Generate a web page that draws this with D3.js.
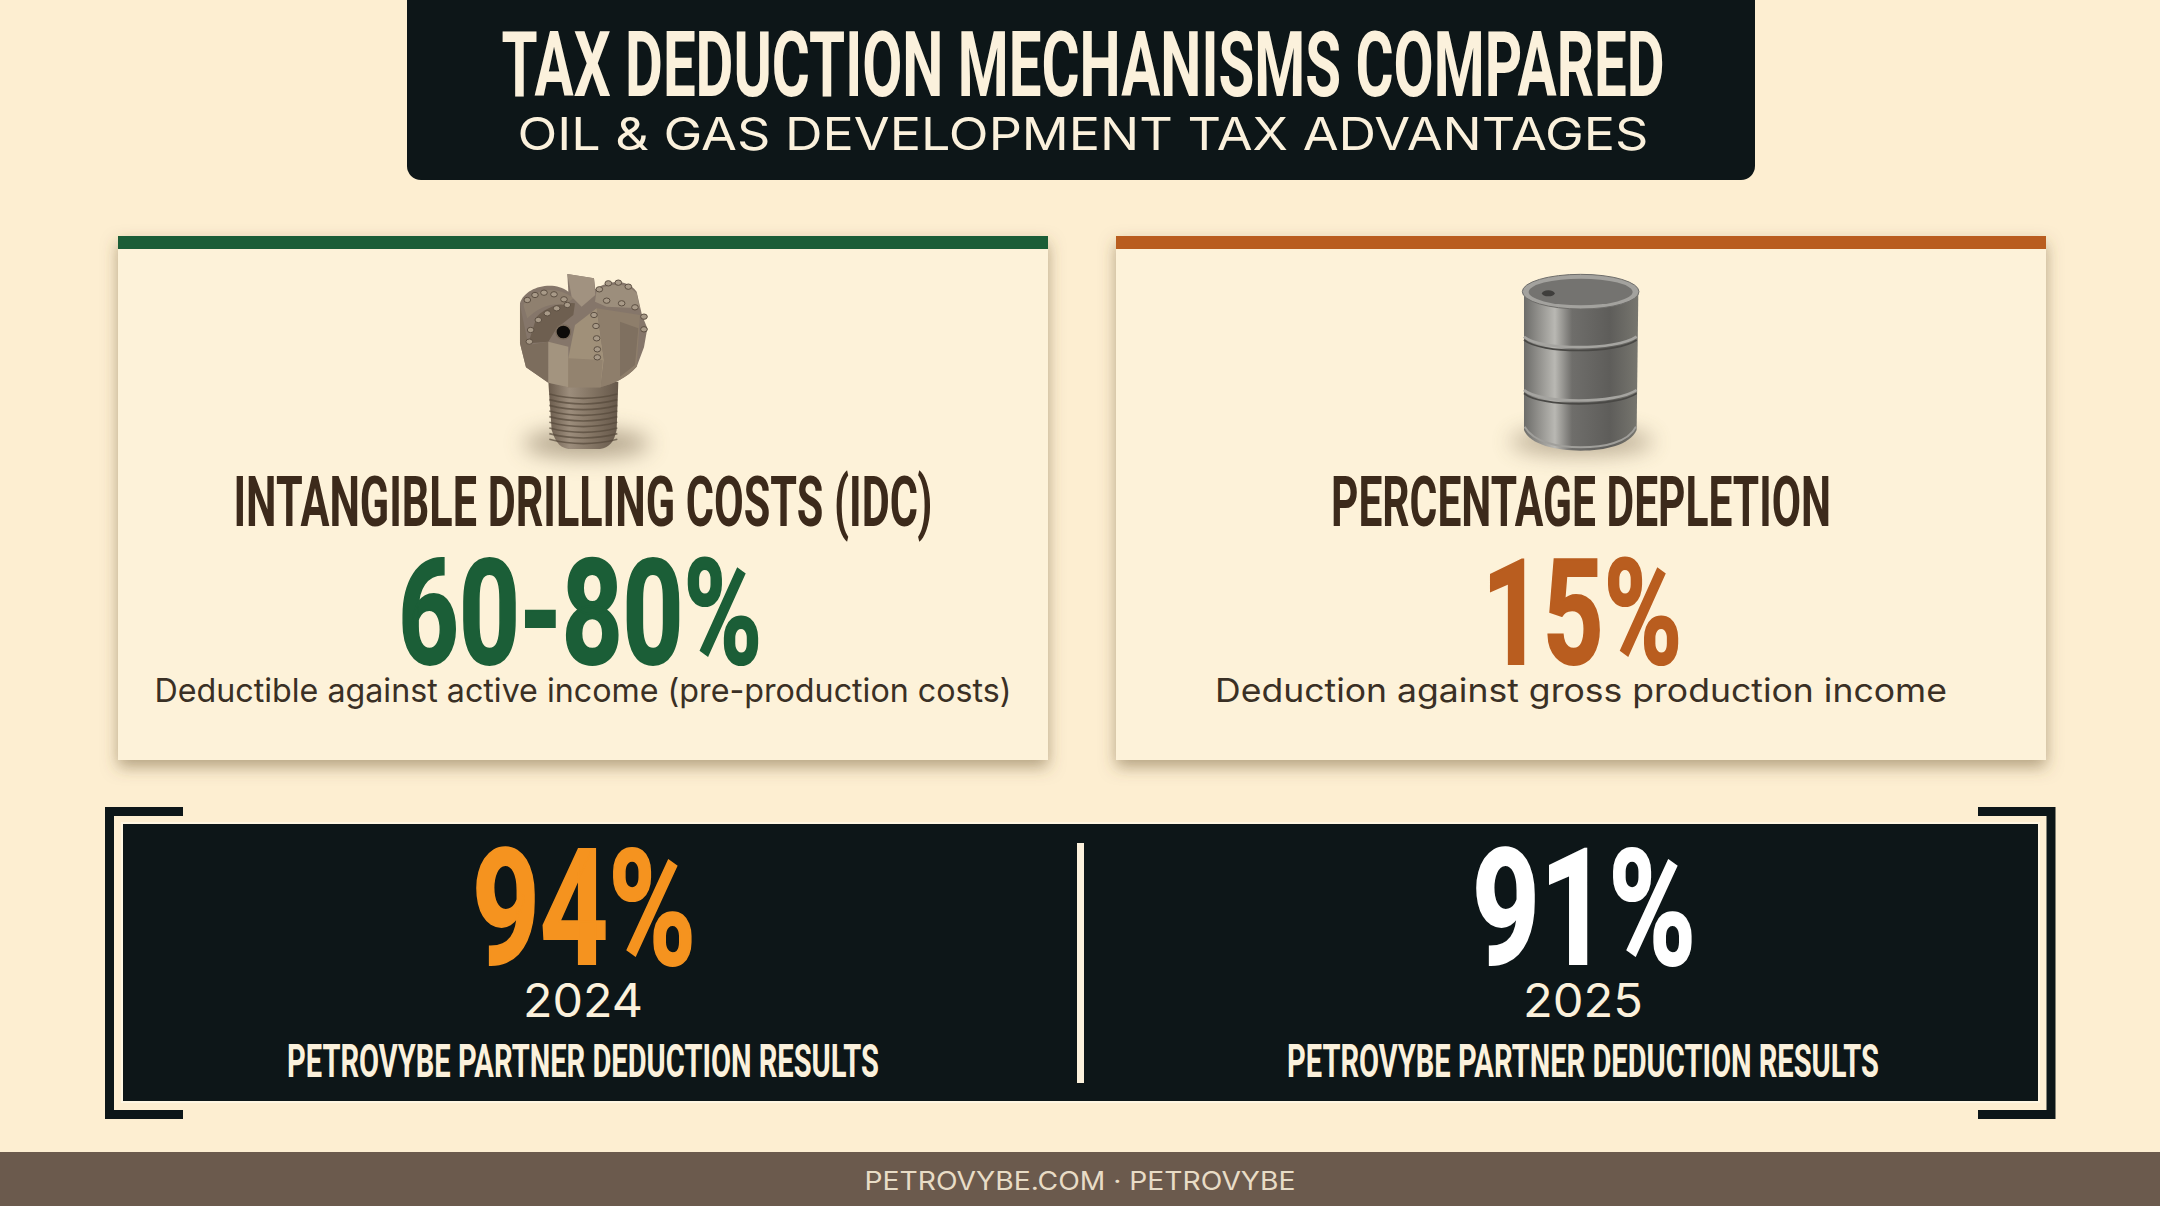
<!DOCTYPE html>
<html>
<head>
<meta charset="utf-8">
<script src="https://cdn.jsdelivr.net/npm/d3@7"></script>
<style>
    html, body { margin: 0; padding: 0; background: #fdeed1; overflow: hidden; }
    svg { display: block; }
    .cond { font-family: "Liberation Sans Narrow", "Roboto", sans-serif; font-weight: 700; }
    .round { font-family: "Inter", "Open Sans", sans-serif; }
</style>
</head>
<body>
<script>
var width = 2160,
    height = 1206;

var titleText = 'TAX DEDUCTION MECHANISMS COMPARED';
var subtitleText = 'OIL & GAS DEVELOPMENT TAX ADVANTAGES';
var footerText = 'PETROVYBE.COM · PETROVYBE';

var mechanisms = ['INTANGIBLE DRILLING COSTS (IDC)', 'PERCENTAGE DEPLETION'];
var mechanismValues = ['60-80%', '15%'];
var mechanismNotes = [
    'Deductible against active income (pre-production costs)',
    'Deduction against gross production income'
];

var years = ['2024', '2025'];
var partnerResults = [94, 91];
var resultsLabel = 'PETROVYBE PARTNER DEDUCTION RESULTS';

var dark = '#0d1618',
    cream = '#fbf1dc',
    cardColors = ['#1b5e37', '#b95d1f'],
    resultColors = ['#f5931f', '#ffffff'];

var svg = d3.select('body')
    .append('svg')
    .attr('width', width)
    .attr('height', height);

var defs = svg.append('defs');

var cardShadow = defs.append('filter')
    .attr('id', 'cardShadow')
    .attr('x', '-5%').attr('y', '-5%').attr('width', '110%').attr('height', '115%');
cardShadow.append('feDropShadow')
    .attr('dx', 0).attr('dy', 7).attr('stdDeviation', 8)
    .attr('flood-color', '#6b5530').attr('flood-opacity', 0.5);

var softBlur = defs.append('filter')
    .attr('id', 'softBlur')
    .attr('x', '-60%').attr('y', '-200%').attr('width', '220%').attr('height', '500%');
softBlur.append('feGaussianBlur').attr('stdDeviation', 32);

function hGradient(id, stops) {
    var g = defs.append('linearGradient').attr('id', id);
    stops.forEach(function (s) {
        g.append('stop').attr('offset', s[0]).attr('stop-color', s[1]);
    });
}

hGradient('barrelBody', [[0, '#6c6c69'], [0.12, '#8f8e8a'], [0.27, '#b9b8b3'], [0.42, '#6f6e6b'], [0.75, '#5e5d5a'], [1, '#77766f']]);
hGradient('shankFill', [[0, '#6a5b4c'], [0.3, '#9c8d7c'], [0.6, '#857665'], [1, '#66584a']]);

// header
svg.append('path')
    .attr('d', 'M407,-10H1755V166a14,14 0 0 1 -14,14H421a14,14 0 0 1 -14,-14Z')
    .attr('fill', dark);

svg.append('text')
    .attr('class', 'cond')
    .attr('x', 1083).attr('y', 96)
    .attr('text-anchor', 'middle')
    .attr('font-size', 91)
    .attr('textLength', 1163)
    .attr('lengthAdjust', 'spacingAndGlyphs')
    .attr('fill', cream)
    .text(titleText);

svg.append('text')
    .attr('class', 'round')
    .attr('x', 1083).attr('y', 150)
    .attr('text-anchor', 'middle')
    .attr('font-size', 45)
    .attr('textLength', 1131)
    .attr('lengthAdjust', 'spacingAndGlyphs')
    .attr('fill', cream)
    .text(subtitleText);

// the two mechanism cards
var cardX = d3.scaleBand()
    .domain(mechanisms)
    .range([118, 2046])
    .paddingInner(68 / 998)
    .paddingOuter(0);

var cards = svg.selectAll('g.card')
    .data(mechanisms)
    .enter()
    .append('g')
    .attr('class', 'card');

cards.append('rect')
    .attr('x', function (d) { return cardX(d); })
    .attr('y', 236)
    .attr('width', cardX.bandwidth())
    .attr('height', 524)
    .attr('fill', '#fdf2d9')
    .attr('filter', 'url(#cardShadow)');

cards.append('rect')
    .attr('x', function (d) { return cardX(d); })
    .attr('y', 236)
    .attr('width', cardX.bandwidth())
    .attr('height', 13)
    .attr('fill', function (d, i) { return cardColors[i]; });

cards.append('text')
    .attr('class', 'cond')
    .attr('x', function (d) { return cardX(d) + cardX.bandwidth() / 2; })
    .attr('y', 526)
    .attr('text-anchor', 'middle')
    .attr('font-size', 70)
    .attr('textLength', function (d, i) { return [699, 500][i]; })
    .attr('lengthAdjust', 'spacingAndGlyphs')
    .attr('fill', '#3c2a1b')
    .text(function (d) { return d; });

cards.append('text')
    .attr('class', 'cond')
    .attr('x', function (d, i) { return cardX(d) + cardX.bandwidth() / 2 + [-3, 1][i]; })
    .attr('y', 664)
    .attr('text-anchor', 'middle')
    .attr('font-size', 147)
    .attr('textLength', function (d, i) { return [364, 200][i]; })
    .attr('lengthAdjust', 'spacingAndGlyphs')
    .attr('fill', function (d, i) { return cardColors[i]; })
    .attr('stroke', function (d, i) { return cardColors[i]; })
    .attr('stroke-width', 2)
    .text(function (d, i) { return mechanismValues[i]; });

cards.append('text')
    .attr('class', 'round')
    .attr('x', function (d) { return cardX(d) + cardX.bandwidth() / 2; })
    .attr('y', 702)
    .attr('text-anchor', 'middle')
    .attr('font-size', 33)
    .attr('textLength', function (d, i) { return [857, 732][i]; })
    .attr('lengthAdjust', 'spacingAndGlyphs')
    .attr('fill', '#3a3025')
    .text(function (d, i) { return mechanismNotes[i]; });

// drill bit, drawn in 3x units
var bit = svg.append('g').attr('transform', 'translate(440,250) scale(0.3333)');

bit.append('ellipse')
    .attr('cx', 440).attr('cy', 580).attr('rx', 190).attr('ry', 42)
    .attr('fill', '#6b5a42').attr('opacity', 0.5)
    .attr('filter', 'url(#softBlur)');

bit.append('path')
    .attr('d', 'M325,395L535,395L530,540C522,575 510,592 480,597L385,597C355,592 345,570 335,540Z')
    .attr('fill', 'url(#shankFill)');

bit.selectAll('path.thread')
    .data(d3.range(9))
    .enter()
    .append('path')
    .attr('class', 'thread')
    .attr('d', function (d) {
        var y = 432 + d * 17;
        return 'M328,' + y + 'Q430,' + (y + 26) + ' 532,' + y;
    })
    .attr('fill', 'none')
    .attr('stroke', '#55483b')
    .attr('stroke-width', 5)
    .attr('opacity', 0.7);

var bitFaces = [
    ['M240,160C255,110 340,90 385,125L382,72L462,85L466,118C505,90 560,85 590,125L606,195L622,235L612,292L590,350C560,385 520,400 480,412L385,412L325,398L258,352L240,280Z', '#85766a'],
    ['M265,280L290,200C320,170 370,155 405,160L400,195L350,235L325,275Z', '#6e5f50'],
    ['M250,165C280,115 350,105 400,145L375,165C335,155 290,175 262,205Z', '#8f806f'],
    ['M382,72L462,85L466,135L425,170L395,140Z', '#a19280'],
    ['M470,120C510,100 560,95 590,130L600,175L500,170L465,155Z', '#9c8e7c'],
    ['M240,165L265,285L325,275L325,398L258,352L240,280Z', '#7c6d5d'],
    ['M325,275L385,290L385,412L325,398Z', '#a3947f'],
    ['M405,225L470,175L492,330L482,412L385,412L385,325Z', '#a09079'],
    ['M470,175L600,195L590,350C560,385 520,400 482,412L492,330Z', '#8e7e6b'],
    ['M540,215L595,235L585,345L540,380Z', '#7f7060'],
    ['M385,325L488,330L482,412L385,412Z', '#93836f']
];

bit.selectAll('path.face')
    .data(bitFaces)
    .enter()
    .append('path')
    .attr('class', 'face')
    .attr('d', function (d) { return d[0]; })
    .attr('fill', function (d) { return d[1]; });

var bitTeeth = [
    [262, 150], [285, 135], [312, 128], [342, 133], [372, 148],
    [268, 275], [272, 240], [295, 210], [322, 190], [350, 175], [382, 165],
    [478, 118], [505, 100], [535, 98], [565, 110],
    [500, 152], [545, 160], [585, 172], [612, 200], [612, 238],
    [462, 195], [468, 228], [470, 265], [472, 298], [472, 322]
];

bit.selectAll('ellipse.tooth')
    .data(bitTeeth)
    .enter()
    .append('ellipse')
    .attr('class', 'tooth')
    .attr('cx', function (d) { return d[0]; })
    .attr('cy', function (d) { return d[1]; })
    .attr('rx', 10).attr('ry', 8)
    .attr('fill', '#a89a88')
    .attr('stroke', '#5b4e41')
    .attr('stroke-width', 3);

bit.append('ellipse')
    .attr('cx', 370).attr('cy', 246).attr('rx', 22).attr('ry', 21)
    .attr('fill', '#0d0b09')
    .attr('stroke', '#7a6b5b').attr('stroke-width', 4);

// oil barrel, drawn in 3x units
var barrel = svg.append('g').attr('transform', 'translate(1450,250) scale(0.3333)');

barrel.append('ellipse')
    .attr('cx', 395).attr('cy', 575).attr('rx', 215).attr('ry', 40)
    .attr('fill', '#6b5a42').attr('opacity', 0.45)
    .attr('filter', 'url(#softBlur)');

barrel.append('path')
    .attr('d', 'M222,130L222,540C240,585 320,602 392,602C465,602 540,585 560,540L565,130Z')
    .attr('fill', 'url(#barrelBody)');

barrel.selectAll('path.rib')
    .data([260, 420])
    .enter()
    .append('path')
    .attr('class', 'rib')
    .attr('d', function (d) {
        return 'M222,' + d + 'C270,' + (d + 42) + ' 500,' + (d + 42) + ' 560,' + d;
    })
    .attr('fill', 'none')
    .attr('stroke', '#a5a4a0')
    .attr('stroke-width', 8);

barrel.selectAll('path.ribShade')
    .data([270, 430])
    .enter()
    .append('path')
    .attr('class', 'ribShade')
    .attr('d', function (d) {
        return 'M222,' + d + 'C270,' + (d + 42) + ' 500,' + (d + 42) + ' 560,' + d;
    })
    .attr('fill', 'none')
    .attr('stroke', '#494845')
    .attr('stroke-width', 5);

barrel.append('path')
    .attr('d', 'M224,530C250,578 330,592 392,592C460,592 535,578 558,530')
    .attr('fill', 'none')
    .attr('stroke', '#a09f9b')
    .attr('stroke-width', 6);

barrel.append('ellipse')
    .attr('cx', 392).attr('cy', 125).attr('rx', 175).attr('ry', 52)
    .attr('fill', '#a3a29e')
    .attr('stroke', '#6d6c69')
    .attr('stroke-width', 3);

barrel.append('ellipse')
    .attr('cx', 392).attr('cy', 126).attr('rx', 156).attr('ry', 40)
    .attr('fill', '#747370');

barrel.append('ellipse')
    .attr('cx', 295).attr('cy', 130).attr('rx', 19).attr('ry', 9)
    .attr('fill', '#3f3e3c');

// results panel
svg.append('rect')
    .attr('x', 122).attr('y', 823)
    .attr('width', 1917).attr('height', 279)
    .attr('fill', dark)
    .attr('stroke', '#fff6e2')
    .attr('stroke-width', 2);

var bracket = svg.append('g')
    .attr('fill', 'none')
    .attr('stroke', dark)
    .attr('stroke-width', 9);

bracket.append('path').attr('d', 'M183,811.5H109.5V1114.5H183');
bracket.append('path').attr('d', 'M1978,811.5H2051V1114.5H1978');

svg.append('rect')
    .attr('x', 1077).attr('y', 843)
    .attr('width', 7).attr('height', 240)
    .attr('fill', cream);

var resultX = d3.scalePoint()
    .domain(years)
    .range([583, 1583]);

var results = svg.selectAll('g.result')
    .data(years)
    .enter()
    .append('g')
    .attr('class', 'result');

results.append('text')
    .attr('class', 'cond')
    .attr('x', function (d) { return resultX(d) + 1; })
    .attr('y', 964)
    .attr('text-anchor', 'middle')
    .attr('font-size', 162)
    .attr('textLength', 224)
    .attr('lengthAdjust', 'spacingAndGlyphs')
    .attr('fill', function (d, i) { return resultColors[i]; })
    .attr('stroke', function (d, i) { return resultColors[i]; })
    .attr('stroke-width', 2)
    .text(function (d, i) { return partnerResults[i] + '%'; });

results.append('text')
    .attr('class', 'round')
    .attr('x', function (d) { return resultX(d); })
    .attr('y', 1017)
    .attr('text-anchor', 'middle')
    .attr('font-size', 47)
    .attr('textLength', 120)
    .attr('lengthAdjust', 'spacingAndGlyphs')
    .attr('fill', cream)
    .text(function (d) { return d; });

results.append('text')
    .attr('class', 'cond')
    .attr('x', function (d) { return resultX(d); })
    .attr('y', 1077)
    .attr('text-anchor', 'middle')
    .attr('font-size', 47)
    .attr('textLength', 592)
    .attr('lengthAdjust', 'spacingAndGlyphs')
    .attr('fill', cream)
    .text(resultsLabel);

// footer
svg.append('rect')
    .attr('x', 0).attr('y', 1152)
    .attr('width', width).attr('height', height - 1152)
    .attr('fill', '#6b5a4d');

svg.append('text')
    .attr('class', 'round')
    .attr('x', 1080).attr('y', 1190)
    .attr('text-anchor', 'middle')
    .attr('font-size', 25)
    .attr('textLength', 431)
    .attr('lengthAdjust', 'spacingAndGlyphs')
    .attr('fill', '#e8dcc6')
    .text(footerText);
</script>
</body>
</html>
